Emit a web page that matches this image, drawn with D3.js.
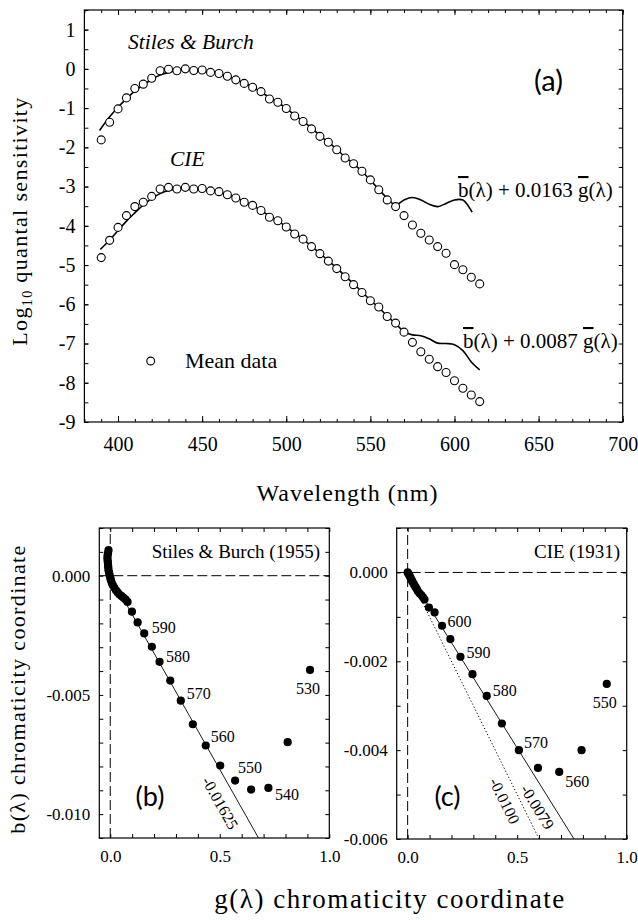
<!DOCTYPE html>
<html><head><meta charset="utf-8">
<script src="https://cdn.jsdelivr.net/npm/d3@7"></script>
<style>
body{margin:0;background:#fff;}
svg{display:block;}
</style></head><body>
<svg id="chart" width="638" height="920"></svg>
<script>
// ---------------- DATA ----------------
// Panel (a): wavelengths (nm) of mean data
const wavelengths = [390,395,400,405,410,415,420,425,430,435,440,445,450,455,460,465,470,475,480,485,490,495,500,505,510,515,520,525,530,535,540,545,550,555,560,565,570,575,580,585,590,595,600,605,610,615];
// Stiles & Burch mean data (log10 quantal sensitivity)
const sbMean = [-1.81,-1.36,-1.02,-0.74,-0.50,-0.39,-0.24,-0.05,-0.01,-0.05,0.00,-0.04,-0.03,-0.09,-0.12,-0.19,-0.28,-0.37,-0.47,-0.58,-0.77,-0.85,-1.01,-1.20,-1.34,-1.53,-1.72,-1.87,-2.06,-2.27,-2.42,-2.61,-2.83,-3.08,-3.34,-3.51,-3.74,-3.98,-4.19,-4.36,-4.53,-4.70,-4.99,-5.12,-5.31,-5.48];
// CIE mean data (shifted by -3 log units)
const cieMean = [-4.81,-4.37,-4.04,-3.74,-3.51,-3.40,-3.25,-3.06,-3.02,-3.06,-3.02,-3.06,-3.05,-3.11,-3.13,-3.21,-3.29,-3.40,-3.48,-3.61,-3.78,-3.87,-4.03,-4.21,-4.34,-4.53,-4.71,-4.90,-5.09,-5.30,-5.50,-5.70,-5.91,-6.07,-6.31,-6.48,-6.71,-6.97,-7.21,-7.40,-7.59,-7.74,-7.95,-8.14,-8.31,-8.48];
// Fitted curve: b(λ)+0.0163 g(λ)  (Stiles & Burch)
const sbFitWl  = [389,395,400,405,410,415,420,425,430,435,440,445,450,455,460,465,470,475,480,485,490,495,500,505,510,515,520,525,530,535,540,545,550,555,560,565,570,575,580,585,590,595,600,605,608,610.5];
const sbFitVal = [-1.57,-1.22,-0.98,-0.76,-0.56,-0.41,-0.27,-0.16,-0.09,-0.05,-0.03,-0.03,-0.05,-0.09,-0.13,-0.19,-0.27,-0.36,-0.46,-0.59,-0.73,-0.86,-1.00,-1.18,-1.33,-1.51,-1.70,-1.87,-2.05,-2.25,-2.42,-2.61,-2.84,-3.07,-3.30,-3.47,-3.34,-3.28,-3.34,-3.45,-3.51,-3.43,-3.34,-3.34,-3.48,-3.65];
// Fitted curve: b(λ)+0.0087 g(λ)  (CIE)
const cieFitWl  = [389.5,395,400,405,410,415,420,425,430,435,440,445,450,455,460,465,470,475,480,485,490,495,500,505,510,515,520,525,530,535,540,545,550,555,560,565,570,575,580,585,590,595,600,605,610,615];
const cieFitVal = [-4.60,-4.36,-4.12,-3.88,-3.67,-3.47,-3.30,-3.18,-3.10,-3.06,-3.04,-3.05,-3.06,-3.10,-3.14,-3.20,-3.28,-3.38,-3.48,-3.61,-3.75,-3.88,-4.02,-4.19,-4.34,-4.52,-4.70,-4.89,-5.08,-5.28,-5.48,-5.68,-5.90,-6.08,-6.30,-6.49,-6.70,-6.78,-6.80,-6.88,-6.99,-7.00,-7.03,-7.18,-7.47,-7.67];
const yTicksA = [-9,-8,-7,-6,-5,-4,-3,-2,-1,0,1];
const xTicksA = [400,450,500,550,600,650,700];

// Panel (b): Stiles & Burch (1955) chromaticity coordinates
const sbG = [-0.008,-0.010,-0.012,-0.013,-0.012,-0.011,-0.010,-0.009,-0.008,-0.005,-0.003,0.000,0.003,0.007,0.012,0.018,0.026,0.034,0.042,0.052,0.061,0.070,0.079,0.099,0.125,0.155,0.190,0.225,0.274,0.322,0.377,0.436,0.502,0.570,0.643,0.722,0.810,0.912];
const sbB = [0.00107,0.00095,0.00086,0.00075,0.00065,0.00055,0.00044,0.00034,0.00023,0.00012,0.00002,-0.00009,-0.00019,-0.00030,-0.00040,-0.00050,-0.00061,-0.00070,-0.00079,-0.00086,-0.00093,-0.00100,-0.00110,-0.00151,-0.00196,-0.00242,-0.00298,-0.00361,-0.00440,-0.00524,-0.00623,-0.00712,-0.00796,-0.00859,-0.00897,-0.00890,-0.00698,-0.00395];
const sbLabels = [{i:25,t:"590"},{i:27,t:"580"},{i:29,t:"570"},{i:31,t:"560"},{i:33,t:"550"},{i:35,t:"540"},{i:37,t:"530"}];
const sbSlope = -0.01625;

// Panel (c): CIE (1931) chromaticity coordinates
const cieG = [0.000,0.004,0.008,0.012,0.016,0.020,0.023,0.029,0.035,0.041,0.046,0.054,0.062,0.070,0.077,0.097,0.123,0.157,0.195,0.241,0.296,0.361,0.430,0.508,0.595,0.692,0.794,0.909];
const cieB = [0.00000,-0.00003,-0.00007,-0.00011,-0.00015,-0.00019,-0.00022,-0.00027,-0.00032,-0.00037,-0.00042,-0.00047,-0.00051,-0.00056,-0.00061,-0.00079,-0.00090,-0.00120,-0.00150,-0.00190,-0.00229,-0.00278,-0.00340,-0.00400,-0.00440,-0.00449,-0.00400,-0.00251];
const cieLabels = [{i:17,t:"600"},{i:19,t:"590"},{i:21,t:"580"},{i:23,t:"570"},{i:25,t:"560"},{i:27,t:"550"}];
const cieSlopeSolid = -0.0079;
const cieSlopeDotted = -0.0100;

// ---------------- DRAW ----------------
const SERIF = '"Liberation Serif","Times New Roman",serif';
const SANS = 'Lato,"Open Sans",sans-serif';
const svg = d3.select("#chart");
const fmtMinus = f => d => f(d).replace("\u2212","-");
function txt(parent, size, family){
  return parent.append("text").style("font-family", family||SERIF).style("font-size", size+"px").attr("fill","#000");
}
// widen a title to the measured span of the original by letter-spacing
function fitWidth(t, target){
  const n = t.text().length;
  const w = t.node().getComputedTextLength();
  const ls = Math.max(0, (target - w) / Math.max(1, n - 1));
  t.style("letter-spacing", ls + "px");
}

function frame(g, x, y){
  const [x0,x1] = x.range(), [y0,y1] = y.range();
  g.append("rect").attr("x",x0).attr("y",y1).attr("width",x1-x0).attr("height",y0-y1)
    .attr("fill","none").attr("stroke","#000").attr("stroke-width",1.2);
}
function tickAxis(g, axis, transform, size){
  const a = g.append("g").attr("transform",transform).call(axis);
  a.select(".domain").remove();
  a.selectAll(".tick line").attr("stroke","#000").attr("stroke-width",1);
  a.selectAll(".tick text").style("font-family",SERIF).style("font-size",(size||17)+"px").attr("fill","#000");
  return a;
}

// ===== Panel (a) =====
const xA = d3.scaleLinear([380,700],[84.4,622.7]);
const yA = d3.scaleLinear([-9,1.5],[422,10]);
const gA = svg.append("g");
const minorX = d3.range(380,701,10), minorY = d3.range(-9,1.51,0.5);
tickAxis(gA, d3.axisBottom(xA).tickValues(minorX).tickFormat("").tickSizeInner(-3).tickSizeOuter(0), `translate(0,${yA.range()[0]})`);
tickAxis(gA, d3.axisBottom(xA).tickValues(xTicksA).tickFormat(d3.format("d")).tickSizeInner(-6).tickSizeOuter(0).tickPadding(15), `translate(0,${yA.range()[0]})`, 20);
tickAxis(gA, d3.axisTop(xA).tickValues(minorX).tickFormat("").tickSizeInner(-3).tickSizeOuter(0), `translate(0,${yA.range()[1]})`);
tickAxis(gA, d3.axisTop(xA).tickValues(xTicksA).tickFormat("").tickSizeInner(-5).tickSizeOuter(0), `translate(0,${yA.range()[1]})`);
tickAxis(gA, d3.axisLeft(yA).tickValues(minorY).tickFormat("").tickSizeInner(-4).tickSizeOuter(0), `translate(${xA.range()[0]},0)`);
tickAxis(gA, d3.axisLeft(yA).tickValues(yTicksA).tickFormat(fmtMinus(d3.format("d"))).tickSizeInner(-4).tickSizeOuter(0).tickPadding(9), `translate(${xA.range()[0]},0)`, 20);
tickAxis(gA, d3.axisRight(yA).tickValues(minorY).tickFormat("").tickSizeInner(-4).tickSizeOuter(0), `translate(${xA.range()[1]},0)`);
frame(gA, xA, yA);

const lineA = d3.line().x(d=>xA(d[0])).y(d=>yA(d[1])).curve(d3.curveCatmullRom.alpha(0.5));
gA.append("path").datum(d3.zip(sbFitWl, sbFitVal)).attr("d",lineA).attr("fill","none").attr("stroke","#000").attr("stroke-width",1.6);
gA.append("path").datum(d3.zip(cieFitWl, cieFitVal)).attr("d",lineA).attr("fill","none").attr("stroke","#000").attr("stroke-width",1.6);
[sbMean, cieMean].forEach(arr=>{
  gA.append("g").selectAll("circle").data(d3.zip(wavelengths, arr)).join("circle")
    .attr("cx",d=>xA(d[0])).attr("cy",d=>yA(d[1])).attr("r",4)
    .attr("fill","#fff").attr("stroke","#000").attr("stroke-width",1.1);
});
txt(gA,21.5).attr("x",128).attr("y",49).style("font-style","italic").text("Stiles & Burch");
txt(gA,21.5).attr("x",170).attr("y",166).style("font-style","italic").text("CIE");
txt(gA,29,SANS).attr("x",548.5).attr("y",91).attr("text-anchor","middle").text("(a)");
gA.append("circle").attr("cx",150.7).attr("cy",361).attr("r",3.9).attr("fill","#fff").attr("stroke","#000").attr("stroke-width",1.1);
txt(gA,22).attr("x",185).attr("y",368).text("Mean data");
function formula(x, y, coef){
  const t = txt(gA,21).attr("x",x).attr("y",y);
  t.append("tspan").style("text-decoration","overline").text("b");
  t.append("tspan").text("(λ) + " + coef + " ");
  t.append("tspan").style("text-decoration","overline").text("g");
  t.append("tspan").text("(λ)");
}
formula(458, 197, "0.0163");
formula(463, 348, "0.0087");
const xTitle = txt(svg,24).attr("x",347.5).attr("y",501).attr("text-anchor","middle").text("Wavelength (nm)");
fitWidth(xTitle, 181);
const yl = txt(svg,22).attr("transform","translate(27,221) rotate(-90)").attr("text-anchor","middle");
yl.append("tspan").text("Log");
yl.append("tspan").style("font-size","14px").attr("dy",5).text("10");
yl.append("tspan").attr("dy",-5).text(" quantal sensitivity");
{
  const w = yl.node().getComputedTextLength();
  yl.style("letter-spacing", Math.max(0,(248 - w)/24) + "px");
}

// ===== Panels (b) and (c) =====
function chromPanel(opts){
  const x = d3.scaleLinear([-0.05,1.0], opts.xr);
  const y = d3.scaleLinear(opts.yd, opts.yr);
  const g = svg.append("g");
  const minorXs = d3.range(0,10.01,1).map(v=>v/10);
  const minorYs = d3.range(Math.round(opts.yd[0]*1000), Math.round(opts.yd[1]*1000)+1, 1).map(v=>v/1000);
  tickAxis(g, d3.axisBottom(x).tickValues(minorXs).tickFormat(d => [0,0.5,1].includes(d) ? d3.format(".1f")(d) : "").tickSizeInner(-4).tickSizeOuter(0).tickPadding(12), `translate(0,${opts.yr[0]})`, 17);
  tickAxis(g, d3.axisTop(x).tickValues(minorXs).tickFormat("").tickSizeInner(-4).tickSizeOuter(0), `translate(0,${opts.yr[1]})`);
  tickAxis(g, d3.axisLeft(y).tickValues(minorYs).tickFormat(d => opts.yLabels.some(v=>Math.abs(v-d)<1e-9) ? fmtMinus(d3.format(".3f"))(d) : "").tickSizeInner(-4).tickSizeOuter(0).tickPadding(9), `translate(${opts.xr[0]},0)`, 17);
  tickAxis(g, d3.axisRight(y).tickValues(minorYs).tickFormat("").tickSizeInner(-4).tickSizeOuter(0), `translate(${opts.xr[1]},0)`);
  g.append("line").attr("x1",opts.xr[0]).attr("x2",opts.xr[1]).attr("y1",y(0)).attr("y2",y(0)).attr("stroke","#000").attr("stroke-width",1).attr("stroke-dasharray","10,4");
  g.append("line").attr("x1",x(0)).attr("x2",x(0)).attr("y1",opts.yr[0]).attr("y2",opts.yr[1]).attr("stroke","#000").attr("stroke-width",1).attr("stroke-dasharray","10,4");
  frame(g, x, y);
  opts.lines.forEach(L=>{
    const gEnd = opts.yd[0]/L.slope;
    g.append("line").attr("x1",x(0)).attr("y1",y(0)).attr("x2",x(gEnd)).attr("y2",y(opts.yd[0]))
      .attr("stroke","#000").attr("stroke-width",L.dotted?1:0.9).attr("stroke-dasharray",L.dotted?"1.2,2.2":null);
    const ang = Math.atan2(y(L.slope)-y(0), x(1)-x(0));
    const px = x(L.at), py = y(L.slope*L.at);
    const nx = -Math.sin(ang), ny = Math.cos(ang);
    txt(g,16).attr("transform",`translate(${px+nx*L.off},${py+ny*L.off}) rotate(${ang*180/Math.PI})`)
      .attr("text-anchor","middle").attr("dy","0.35em").text(L.label);
  });
  g.append("g").selectAll("circle").data(d3.zip(opts.gv, opts.bv)).join("circle")
    .attr("cx",d=>x(d[0])).attr("cy",d=>y(d[1])).attr("r",4.1).attr("fill","#000");
  opts.labels.forEach((L,k)=>{
    const o = opts.offs[k];
    txt(g,16).attr("x",x(opts.gv[L.i])+o[0]).attr("y",y(opts.bv[L.i])+o[1]).attr("text-anchor",o[2]||"start").text(L.t);
  });
  txt(g,19).attr("x",opts.titleX).attr("y",558).attr("text-anchor","end").text(opts.title);
  txt(g,27,SANS).attr("x",opts.tagX).attr("y",806).attr("text-anchor","middle").text(opts.tag);
  return {x,y};
}

chromPanel({
  xr:[99.3,329.3], yd:[-0.011,0.002], yr:[838,528], yLabels:[0,-0.005,-0.010],
  gv:sbG, bv:sbB, labels:sbLabels,
  offs:[[7.5,-0.5],[6.5,0.5],[6,-2],[5,-3],[3,-8],[6.5,12],[-2,24,"middle"]],
  lines:[{slope:sbSlope, label:"-0.01625", at:0.566, off:16}],
  title:"Stiles & Burch (1955)", titleX:320, tag:"(b)", tagX:150
});
chromPanel({
  xr:[396.7,626.7], yd:[-0.006,0.001], yr:[839,528], yLabels:[0,-0.002,-0.004,-0.006],
  gv:cieG, bv:cieB, labels:cieLabels,
  offs:[[5.5,1.5],[6,1],[6,0],[5,-2],[6,15],[-2,24,"middle"]],
  lines:[{slope:cieSlopeSolid, label:"-0.0079", at:0.647, off:14},{slope:cieSlopeDotted, label:"-0.0100", at:0.5, off:14, dotted:true}],
  title:"CIE (1931)", titleX:620, tag:"(c)", tagX:447.5
});

const gTitle = txt(svg,27).attr("x",390).attr("y",908).attr("text-anchor","middle").text("g(λ) chromaticity coordinate");
fitWidth(gTitle, 350);
const bTitle = txt(svg,22).attr("transform","translate(25,689) rotate(-90)").attr("text-anchor","middle").text("b(λ) chromaticity coordinate");
fitWidth(bTitle, 288);
</script>
</body></html>
